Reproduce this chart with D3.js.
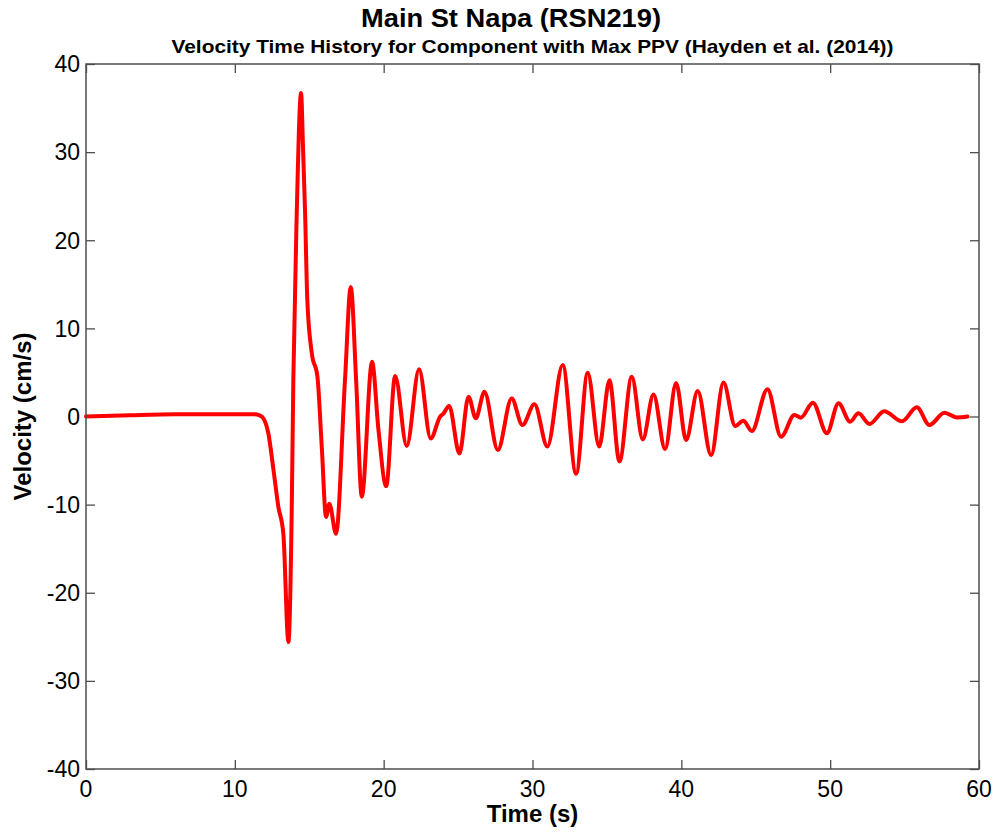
<!DOCTYPE html>
<html>
<head>
<meta charset="utf-8">
<script src="https://cdn.jsdelivr.net/npm/d3@7"></script>
<style>
  html, body { margin: 0; padding: 0; background: #fff; }
  svg { display: block; font-family: "Liberation Sans", Arial, Helvetica, sans-serif; }
</style>
</head>
<body>
<svg id="chart" width="997" height="836"></svg>
<script>
// ---- data ----
const timeS = [0, 3, 6, 9, 11.3, 11.7, 11.95, 12.25, 12.6, 12.92, 13.26, 13.6, 13.82, 13.93, 14.16, 14.45, 14.58, 14.72, 14.87, 15.17, 15.55, 15.84, 16.13, 16.35, 16.8, 17.4, 17.79, 18.15, 18.53, 19.22, 19.65, 20.17, 20.77, 21.55, 22.38, 23.16, 23.8, 24.0, 24.4, 25.09, 25.7, 26.19, 26.77, 27.67, 28.6, 29.32, 30.13, 31.0, 32.03, 32.93, 33.71, 34.48, 35.17, 35.84, 36.67, 37.41, 38.13, 38.91, 39.65, 40.32, 41.1, 42.0, 42.83, 43.62, 44.17, 44.73, 45.79, 46.7, 47.6, 48.03, 48.84, 49.78, 50.56, 51.34, 51.9, 52.64, 53.63, 54.82, 55.82, 56.67, 57.68, 58.5, 59.23];
const velocity = [0, 0.15, 0.25, 0.25, 0.25, 0.1, -0.3, -1.9, -6.1, -10.2, -13.3, -25.6, -11, 4.1, 23.1, 36.7, 30.6, 23.1, 13.2, 7.2, 4.5, -3.4, -11.4, -9.9, -13.3, 4.1, 14.7, 4.1, -9.1, 6.2, -1.5, -7.9, 4.6, -3.35, 5.35, -2.5, 0.0, 0.3, 1.2, -4.2, 2.25, -0.2, 2.8, -3.8, 2.05, -0.97, 1.38, -3.4, 5.85, -6.5, 4.97, -3.4, 4.1, -5.1, 4.5, -2.6, 2.5, -3.7, 3.8, -2.67, 2.9, -4.4, 3.85, -1.08, -0.47, -1.65, 3.1, -2.3, 0.17, -0.13, 1.57, -1.9, 1.5, -0.59, 0.36, -0.85, 0.59, -0.55, 1.04, -0.97, 0.43, -0.1, 0.0];
const xTicks = [0, 10, 20, 30, 40, 50, 60];
const yTicks = [-40, -30, -20, -10, 0, 10, 20, 30, 40];
const titleText = "Main St Napa (RSN219)";
const subtitleText = "Velocity Time History for Component with Max PPV (Hayden et al. (2014))";
const xLabelText = "Time (s)";
const yLabelText = "Velocity (cm/s)";

// ---- layout ----
const L = 86, R = 979, T = 64, B = 769;
const svg = d3.select("#chart");
svg.append("rect").attr("width", 997).attr("height", 836).attr("fill", "#fff");

const x = d3.scaleLinear().domain([0, 60]).range([L, R]);
const y = d3.scaleLinear().domain([-40, 40]).range([B, T]);

const axisColor = "#4d4d4d";
const tickLen = 9;

// axes (ticks pointing inward, on all four sides)
const gB = svg.append("g").attr("transform", `translate(0,${B})`)
  .call(d3.axisBottom(x).tickValues(xTicks).tickSize(-tickLen).tickFormat(""));
const gT = svg.append("g").attr("transform", `translate(0,${T})`)
  .call(d3.axisTop(x).tickValues(xTicks).tickSize(-tickLen).tickFormat(""));
const gL = svg.append("g").attr("transform", `translate(${L},0)`)
  .call(d3.axisLeft(y).tickValues(yTicks).tickSize(-tickLen).tickFormat(""));
const gR = svg.append("g").attr("transform", `translate(${R},0)`)
  .call(d3.axisRight(y).tickValues(yTicks).tickSize(-tickLen).tickFormat(""));
[gB, gT, gL, gR].forEach(g => {
  g.select(".domain").remove();
  g.selectAll(".tick line").attr("stroke", axisColor).attr("stroke-width", 1.3);
});

// tick labels
svg.append("g").selectAll("text").data(xTicks).join("text")
  .attr("x", d => x(d)).attr("y", 797)
  .attr("text-anchor", "middle")
  .attr("font-size", 23).attr("fill", "#000")
  .text(d => d);
svg.append("g").selectAll("text").data(yTicks).join("text")
  .attr("x", 80).attr("y", d => y(d)).attr("dy", "0.36em")
  .attr("text-anchor", "end")
  .attr("font-size", 23).attr("fill", "#000")
  .text(d => d);

// data line
const line = d3.line()
  .x((d, i) => x(timeS[i]))
  .y(d => y(d))
  .curve(d3.curveMonotoneX);
svg.append("path")
  .attr("d", line(velocity))
  .attr("fill", "none")
  .attr("stroke", "#ff0000")
  .attr("stroke-width", 4)
  .attr("stroke-linejoin", "round")
  .attr("stroke-linecap", "round");

// box
svg.append("rect")
  .attr("x", L).attr("y", T).attr("width", R - L).attr("height", B - T)
  .attr("fill", "none").attr("stroke", axisColor).attr("stroke-width", 1.5);

// titles
svg.append("text")
  .attr("x", 361).attr("y", 27)
  .attr("font-size", 25).attr("font-weight", "bold").attr("fill", "#000")
  .attr("textLength", 300).attr("lengthAdjust", "spacingAndGlyphs")
  .text(titleText);
svg.append("text")
  .attr("x", 171.5).attr("y", 53)
  .attr("font-size", 18.5).attr("font-weight", "bold").attr("fill", "#000")
  .attr("textLength", 722).attr("lengthAdjust", "spacingAndGlyphs")
  .text(subtitleText);

// axis labels
svg.append("text")
  .attr("x", (L + R) / 2).attr("y", 822)
  .attr("text-anchor", "middle")
  .attr("font-size", 24).attr("font-weight", "bold").attr("fill", "#000")
  .text(xLabelText);
svg.append("text")
  .attr("transform", `translate(31,${(T + B) / 2}) rotate(-90)`)
  .attr("text-anchor", "middle")
  .attr("font-size", 24).attr("font-weight", "bold").attr("fill", "#000")
  .text(yLabelText);
</script>
</body>
</html>
